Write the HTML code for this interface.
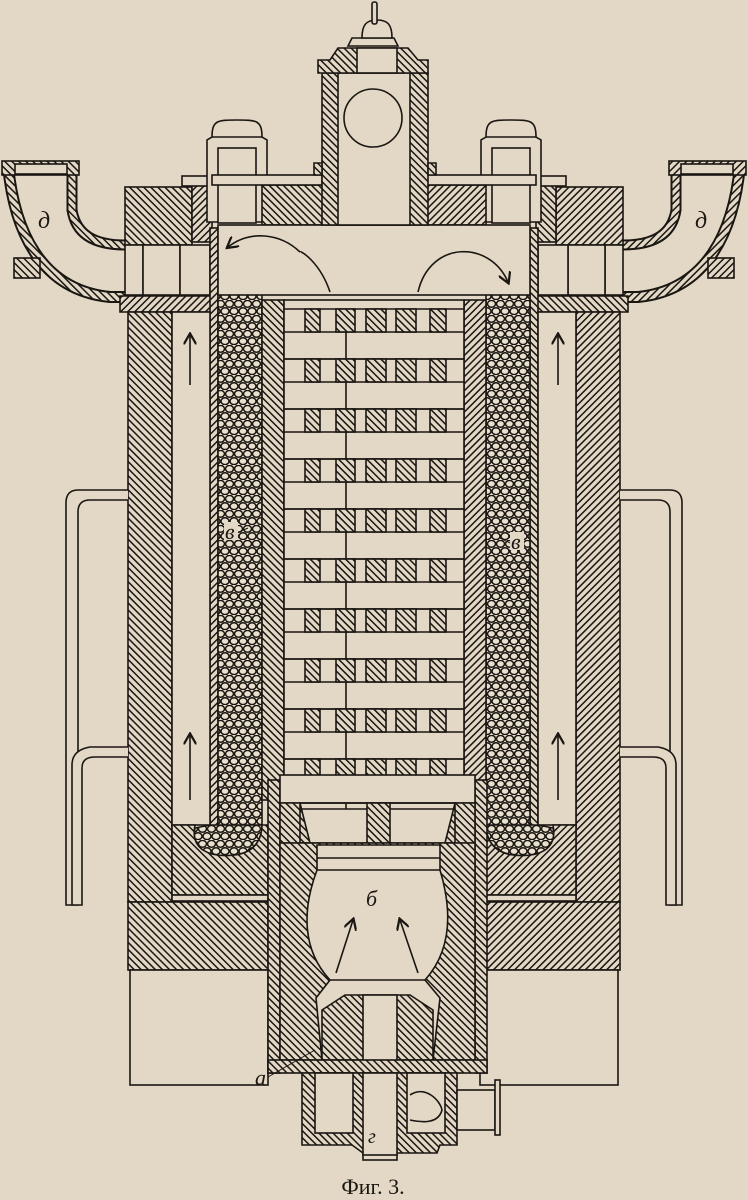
<!DOCTYPE html>
<html><head><meta charset="utf-8"><style>
html,body{margin:0;padding:0;background:#e2d8c5;}
svg{display:block}
text{font-family:"Liberation Serif",serif;fill:#1a1612}
</style></head><body>
<svg width="748" height="1200" viewBox="0 0 748 1200" xmlns="http://www.w3.org/2000/svg">
<defs>
<pattern id="h" width="5" height="5" patternUnits="userSpaceOnUse" patternTransform="rotate(45)">
<rect width="5" height="5" fill="#e2d8c5"/><rect width="5" height="1.5" fill="#1a1612"/></pattern>
<pattern id="h2" width="5" height="5" patternUnits="userSpaceOnUse" patternTransform="rotate(-45)">
<rect width="5" height="5" fill="#e2d8c5"/><rect width="5" height="1.5" fill="#1a1612"/></pattern>
<pattern id="p" width="18" height="15" patternUnits="userSpaceOnUse">
<rect width="18" height="15" fill="#e8dfcd"/>
<g fill="#e8dfcd" stroke="#1a1612" stroke-width="1.5">
<ellipse cx="4.5" cy="3.8" rx="4" ry="3.4"/>
<ellipse cx="13.5" cy="3.8" rx="4" ry="3.4"/>
<ellipse cx="9" cy="11.2" rx="4" ry="3.4"/>
<ellipse cx="0" cy="11.2" rx="4" ry="3.4"/>
<ellipse cx="18" cy="11.2" rx="4" ry="3.4"/>
</g>
</pattern>
<marker id="a" markerWidth="8" markerHeight="8" refX="6" refY="4" orient="auto"><path d="M0,0 L7,4 L0,8" fill="none" stroke="#1a1612" stroke-width="1.4"/></marker>
<g id="row" stroke="#1a1612" stroke-width="1.6">
<line x1="284" y1="0" x2="464" y2="0"/>
<line x1="284" y1="23" x2="464" y2="23"/>
<rect x="305" y="0" width="15" height="23" fill="url(#h)"/>
<rect x="336" y="0" width="19" height="23" fill="url(#h)"/>
<rect x="366" y="0" width="20" height="23" fill="url(#h)"/>
<rect x="396" y="0" width="20" height="23" fill="url(#h)"/>
<rect x="430" y="0" width="16" height="23" fill="url(#h)"/>
<line x1="346" y1="23" x2="346" y2="50"/>
<line x1="284" y1="50" x2="464" y2="50"/>
</g>
</defs>
<rect width="748" height="1200" fill="#e2d8c5"/>
<g stroke="#1a1612" stroke-width="1.6" fill="#e2d8c5">

<g id="half">
 <path d="M8,165 C14,230 40,290 110,297 L215,297" fill="none" stroke-width="12"/>
 <path d="M8,165 C14,230 40,290 110,297 L215,297" fill="none" stroke="url(#h)" stroke-width="8"/>
 <path d="M72,172 L72,210 C76,235 95,245 125,245" fill="none" stroke-width="11"/>
 <path d="M72,172 L72,210 C76,235 95,245 125,245" fill="none" stroke="url(#h)" stroke-width="7"/>
 <rect x="2" y="161" width="77" height="14" fill="url(#h)"/>
 <rect x="15" y="164" width="52" height="10"/>
 <rect x="14" y="258" width="26" height="20" fill="url(#h)"/>
 <rect x="125" y="187" width="67" height="58" fill="url(#h)"/>
 <rect x="192" y="185" width="20" height="57" fill="url(#h2)"/>
 <rect x="182" y="176" width="30" height="10"/>
 <rect x="125" y="245" width="18" height="50"/>
 <rect x="143" y="245" width="37" height="50"/>
 <rect x="180" y="245" width="30" height="50"/>
 <path d="M120,296 L215,296 L215,312 L120,312 Z" fill="url(#h2)"/>
 <path d="M207,222 L207,140 L212,137 C212,120 218,120 237,120 C256,120 262,120 262,137 L267,140 L267,222 Z"/>
 <line x1="212" y1="137" x2="262" y2="137"/>
 <rect x="218" y="148" width="38" height="75"/>
 <rect x="262" y="185" width="76" height="40" fill="url(#h)"/>
 <rect x="212" y="175" width="110" height="10"/>
 <rect x="210" y="228" width="8" height="600" fill="url(#h2)"/>
 <rect x="128" y="312" width="44" height="590" fill="url(#h)"/>
 <rect x="172" y="312" width="38" height="513"/>
 <line x1="190" y1="385" x2="190" y2="335" marker-end="url(#a)"/>
 <line x1="190" y1="800" x2="190" y2="735" marker-end="url(#a)"/>
 <rect x="218" y="292" width="44" height="540" fill="url(#p)"/>
 <path d="M195,828 C190,850 210,858 235,855 C258,852 262,835 262,825 L210,825 Z" fill="url(#p)"/>
 <rect x="262" y="300" width="22" height="500" fill="url(#h)"/>
 <path d="M172,825 L195,825 C190,850 210,858 235,855 C258,852 262,835 262,825 L268,825 L268,895 L172,895 Z" fill="url(#h)"/>
 <rect x="172" y="895" width="96" height="6"/>
 <rect x="128" y="902" width="140" height="68" fill="url(#h)"/>
 <rect x="130" y="970" width="138" height="115"/>
 <path d="M128,490 L78,490 Q66,490 66,503 L66,905 L78,905 L78,512 Q78,500 90,500 L128,500"/>
 <path d="M128,747 L90,747 Q72,750 72,765 L72,905 L82,905 L82,768 Q82,757 95,757 L128,757"/>
</g>
<use href="#half" transform="translate(748,0) scale(-1,1)"/>

<rect x="218" y="225" width="312" height="70"/>
<path d="M300,252 C280,233 250,230 228,247" fill="none" marker-end="url(#a)"/>
<path d="M330,292 C320,262 300,250 300,252" fill="none"/>
<path d="M418,292 C430,240 490,240 508,282" fill="none" marker-end="url(#a)"/>
<rect x="322" y="73" width="106" height="152" fill="url(#h)"/>
<rect x="338" y="73" width="72" height="152"/>
<path d="M314,175 L314,163 L322,163 L322,175 Z M428,163 L436,163 L436,175 L428,175 Z" fill="url(#h)"/>
<ellipse cx="373" cy="118" rx="29" ry="29" fill="none"/>
<path d="M318,73 L318,60 L330,60 L338,48 L408,48 L418,60 L428,60 L428,73 Z" fill="url(#h)"/>
<rect x="357" y="48" width="40" height="25"/>
<path d="M348,46 L352,38 L394,38 L398,46 Z"/>
<path d="M362,38 C362,25 366,20 377,20 C388,20 392,25 392,38 Z"/>
<rect x="372" y="2" width="5" height="22" rx="2"/>

<rect x="268" y="780" width="12" height="293" fill="url(#h)"/>
<rect x="475" y="780" width="12" height="293" fill="url(#h)"/>
<rect x="284" y="300" width="180" height="490"/>
<use href="#row" y="309"/>
<use href="#row" y="359"/>
<use href="#row" y="409"/>
<use href="#row" y="459"/>
<use href="#row" y="509"/>
<use href="#row" y="559"/>
<use href="#row" y="609"/>
<use href="#row" y="659"/>
<use href="#row" y="709"/>
<use href="#row" y="759"/>
<rect x="280" y="775" width="195" height="28"/>
<path d="M280,803 L300,803 L310,843 L280,843 Z" fill="url(#h)"/>
<path d="M475,803 L455,803 L445,843 L475,843 Z" fill="url(#h)"/>
<rect x="300" y="803" width="155" height="40" fill="none"/>
<rect x="367" y="803" width="23" height="40" fill="url(#h)"/>
<path d="M280,843 L475,843 L475,1060 L280,1060 Z" fill="url(#h)"/>
<path d="M317,845 L440,845 L440,870 C452,910 452,950 425,980 L440,998 L433,1060 L322,1060 L316,998 L330,980 C302,950 302,910 317,870 Z"/>
<line x1="317" y1="858" x2="440" y2="858"/>
<line x1="317" y1="870" x2="440" y2="870"/>
<line x1="330" y1="980" x2="425" y2="980"/>
<path d="M322,1060 L322,1010 L345,995 L410,995 L433,1010 L433,1060 Z" fill="url(#h)"/>
<rect x="363" y="995" width="34" height="165"/>
<line x1="336" y1="973" x2="353" y2="920" marker-end="url(#a)"/>
<line x1="418" y1="973" x2="400" y2="920" marker-end="url(#a)"/>
<rect x="268" y="1060" width="219" height="13" fill="url(#h)"/>
<path d="M302,1073 L457,1073 L457,1145 L440,1145 L437,1153 L363,1153 L352,1145 L302,1145 Z" fill="url(#h)"/>
<rect x="315" y="1073" width="38" height="60"/>
<rect x="407" y="1073" width="38" height="60"/>
<rect x="363" y="1073" width="34" height="82"/>
<path d="M410,1095 C425,1085 440,1100 442,1110 C438,1125 420,1122 410,1120" fill="none"/>
<rect x="457" y="1090" width="38" height="40"/>
<rect x="495" y="1080" width="5" height="55"/>
</g>
<text x="38" y="228" font-size="24" font-style="italic">д</text>
<text x="695" y="228" font-size="24" font-style="italic">д</text>
<rect x="224" y="522" width="14" height="18" fill="#e2d8c5"/>
<text x="225" y="539" font-size="22" font-style="italic">в</text>
<line x1="239" y1="532" x2="248" y2="528" stroke="#1a1612"/>
<rect x="510" y="532" width="14" height="18" fill="#e2d8c5"/>
<text x="511" y="549" font-size="22" font-style="italic">в</text>
<line x1="500" y1="538" x2="510" y2="543" stroke="#1a1612"/>
<text x="366" y="906" font-size="22" font-style="italic">б</text>
<text x="255" y="1085" font-size="22" font-style="italic">а</text>
<line x1="268" y1="1077" x2="315" y2="1050" stroke="#1a1612"/>
<text x="368" y="1143" font-size="20" font-style="italic">г</text>
<text x="373" y="1194" font-size="22" text-anchor="middle">Фиг. 3.</text>
</svg>
</body></html>
